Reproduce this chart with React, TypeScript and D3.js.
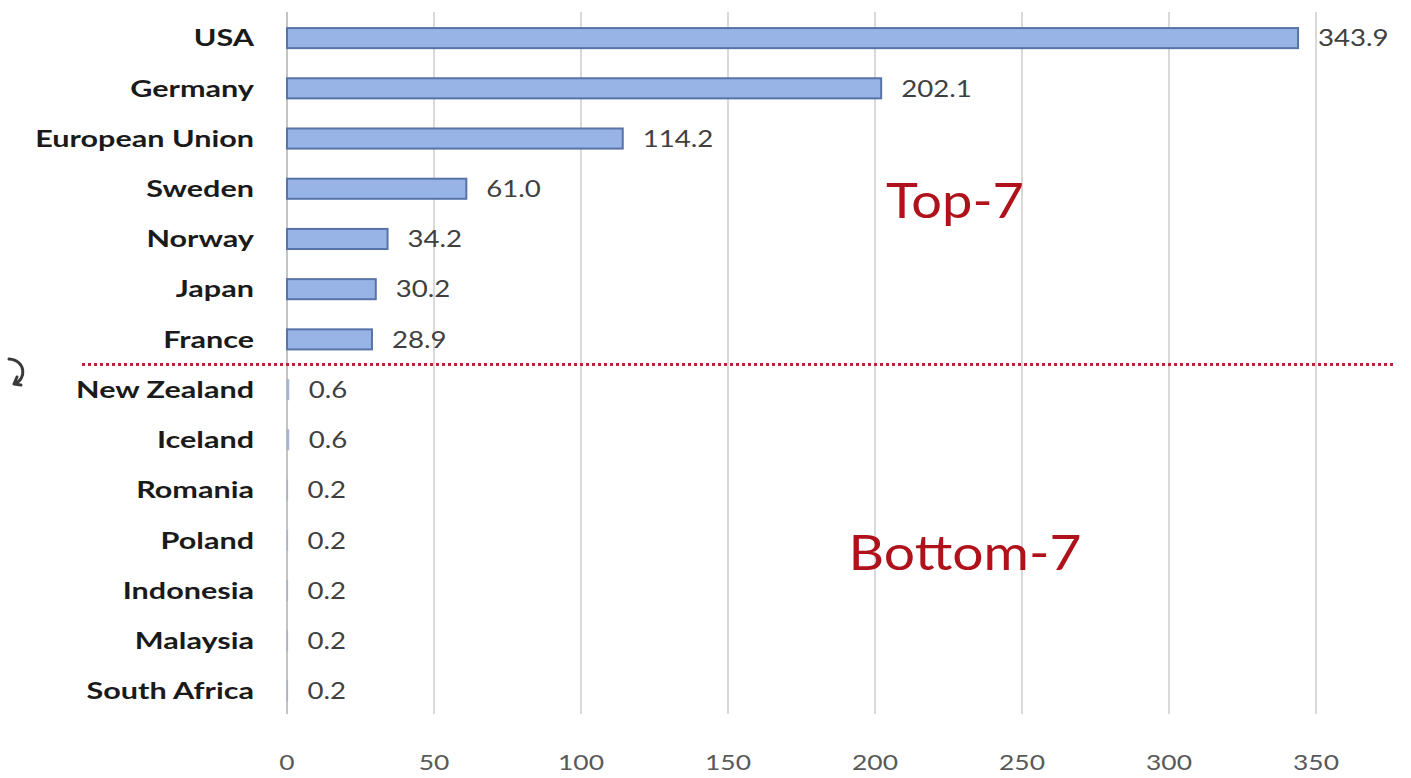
import React from "react";
import * as d3 from "d3";

const categories = [
  "USA", "Germany", "European Union", "Sweden", "Norway", "Japan", "France",
  "New Zealand", "Iceland", "Romania", "Poland", "Indonesia", "Malaysia", "South Africa",
];
const values = [343.9, 202.1, 114.2, 61.0, 34.2, 30.2, 28.9, 0.6, 0.6, 0.2, 0.2, 0.2, 0.2, 0.2];
const valueLabels = ["343.9", "202.1", "114.2", "61.0", "34.2", "30.2", "28.9", "0.6", "0.6", "0.2", "0.2", "0.2", "0.2", "0.2"];
const xTicks = [0, 50, 100, 150, 200, 250, 300, 350];
const groupLabels = ["Top-7", "Bottom-7"];

const W = 1411;
const H = 778;

export default function App() {
  const x = d3.scaleLinear().domain([0, 350]).range([287, 1316]);
  const y = d3.scaleBand<string>().domain(categories).range([13, 716]).paddingInner(0.6).paddingOuter(0.3);
  const bh = y.bandwidth();
  const font = "Lato, 'Open Sans', sans-serif";
  const sepY = (y("France")! + y("New Zealand")!) / 2 + bh / 2;
  const sx = 1.33;

  return (
    <svg width={W} height={H} style={{ position: "absolute", left: 0, top: 0, background: "#fff" }}>
      <rect x={0} y={0} width={W} height={H} fill="#fff" />
      {xTicks.map((t) => (
        <line key={t} x1={x(t)} x2={x(t)} y1={12} y2={714} stroke={t === 0 ? "#c4c4c4" : "#d9d9d9"} strokeWidth={2} />
      ))}
      {xTicks.map((t) => (
        <text key={"l" + t} transform={`translate(${x(t)},770) scale(1.2,1)`} textAnchor="middle" fontFamily={font} fontSize={22} fill="#595959">
          {t}
        </text>
      ))}
      {categories.map((c, i) => {
        const yy = y(c)!;
        const w = x(values[i]) - x(0);
        const tiny = w < 3;
        return (
          <g key={c}>
            <rect x={x(0)} y={yy} width={Math.max(w, 0.6)} height={bh} fill="#98b4e6" stroke={tiny ? "#a9b4c6" : "#5873a8"} strokeWidth={tiny ? 1 : 2} />
            <text transform={`translate(254,${yy + bh / 2}) scale(${sx},1)`} dy="0.36em" textAnchor="end" fontFamily={font} fontWeight={700} fontSize={23} fill="#1a1a1a">
              {c}
            </text>
            <text transform={`translate(${x(values[i]) + 20},${yy + bh / 2}) scale(1.2,1)`} dy="0.36em" fontFamily={font} fontSize={23} fill="#404040">
              {valueLabels[i]}
            </text>
          </g>
        );
      })}
      <line x1={82} x2={1393} y1={sepY} y2={sepY} stroke="#b8263a" strokeWidth={3} strokeDasharray="3,3" />
      <path d="M9,359 C26,360 27,380 14,384 M14,384 L17,377 M14,384 L21,385" fill="none" stroke="#3a3a3a" strokeWidth={3} strokeLinecap="round" />
      <text transform={`translate(955,218) scale(1.13,1)`} textAnchor="middle" fontFamily={font} fontSize={48} fill="#b0121b">{groupLabels[0]}</text>
      <text transform={`translate(965,570) scale(1.15,1)`} textAnchor="middle" fontFamily={font} fontSize={48} fill="#b0121b">{groupLabels[1]}</text>
    </svg>
  );
}
